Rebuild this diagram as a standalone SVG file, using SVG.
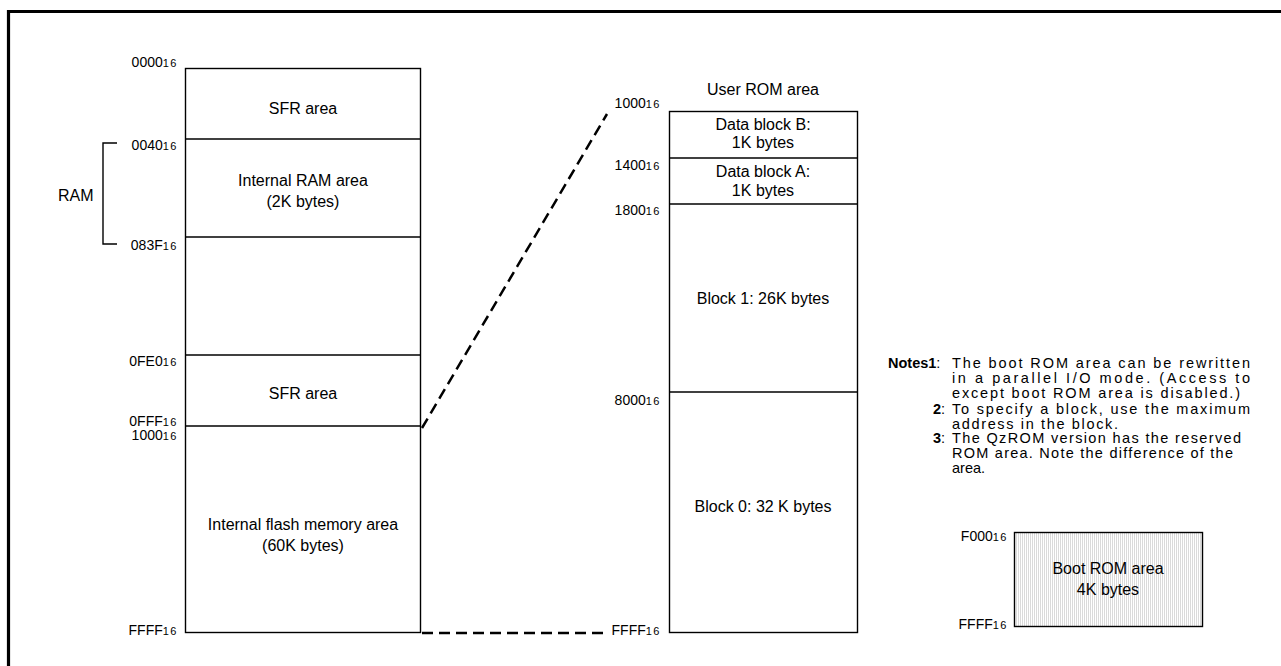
<svg xmlns="http://www.w3.org/2000/svg" width="1281" height="666" viewBox="0 0 1281 666">
<defs>
<pattern id="dots" width="2" height="2" patternUnits="userSpaceOnUse">
<rect width="2" height="2" fill="#ffffff"/>
<rect width="1" height="2" fill="#dadada"/>
</pattern>
</defs>
<style>
text{font-family:"Liberation Sans",Arial,sans-serif;fill:#000}
.lbl{font-size:16px;text-anchor:middle}
.adr{font-size:14px;text-anchor:end}
.sub{font-size:11px;letter-spacing:1.5px}
.box{fill:#fff;stroke:#000;stroke-width:1.4}
.div{stroke:#000;stroke-width:1.4}
.dash{stroke:#000;stroke-width:2.5;stroke-dasharray:11 6;fill:none}
.note{font-size:14.5px}
</style>
<rect width="1281" height="666" fill="#fff"/>
<path d="M8.5 666 V11.5 H1281" fill="none" stroke="#000" stroke-width="3.2"/>

<g id="left-map">
<rect class="box" x="185.5" y="68.5" width="235" height="564"/>
<line class="div" x1="185.5" y1="139" x2="420.5" y2="139"/>
<line class="div" x1="185.5" y1="237" x2="420.5" y2="237"/>
<line class="div" x1="185.5" y1="355" x2="420.5" y2="355"/>
<line class="div" x1="185.5" y1="426" x2="420.5" y2="426"/>
<text class="lbl" x="303" y="114">SFR area</text>
<text class="lbl" x="303" y="186">Internal RAM area</text>
<text class="lbl" x="303" y="207">(2K bytes)</text>
<text class="lbl" x="303" y="399">SFR area</text>
<text class="lbl" x="303" y="530">Internal flash memory area</text>
<text class="lbl" x="303" y="551">(60K bytes)</text>
<text class="adr" x="178" y="67">0000<tspan class="sub">16</tspan></text>
<text class="adr" x="178" y="150">0040<tspan class="sub">16</tspan></text>
<text class="adr" x="178" y="250">083F<tspan class="sub">16</tspan></text>
<text class="adr" x="178" y="366">0FE0<tspan class="sub">16</tspan></text>
<text class="adr" x="178" y="426">0FFF<tspan class="sub">16</tspan></text>
<text class="adr" x="178" y="440">1000<tspan class="sub">16</tspan></text>
<text class="adr" x="178" y="635">FFFF<tspan class="sub">16</tspan></text>
</g>

<g id="ram-bracket">
<path d="M117 143 H103 V244 H117" fill="none" stroke="#000" stroke-width="1.4"/>
<text x="58" y="201" style="font-size:16px">RAM</text>
</g>

<g id="user-rom">
<text class="lbl" x="763" y="95">User ROM area</text>
<rect class="box" x="669.5" y="111.5" width="188" height="521"/>
<line class="div" x1="669.5" y1="158" x2="857.5" y2="158"/>
<line class="div" x1="669.5" y1="204" x2="857.5" y2="204"/>
<line class="div" x1="669.5" y1="392" x2="857.5" y2="392"/>
<text class="lbl" x="763" y="130">Data block B:</text>
<text class="lbl" x="763" y="148">1K bytes</text>
<text class="lbl" x="763" y="177">Data block A:</text>
<text class="lbl" x="763" y="196">1K bytes</text>
<text class="lbl" x="763" y="304">Block 1: 26K bytes</text>
<text class="lbl" x="763" y="512">Block 0: 32 K bytes</text>
<text class="adr" x="661" y="108">1000<tspan class="sub">16</tspan></text>
<text class="adr" x="661" y="170">1400<tspan class="sub">16</tspan></text>
<text class="adr" x="661" y="215">1800<tspan class="sub">16</tspan></text>
<text class="adr" x="661" y="405">8000<tspan class="sub">16</tspan></text>
<text class="adr" x="661" y="635">FFFF<tspan class="sub">16</tspan></text>
</g>

<g id="connectors">
<line class="dash" x1="422" y1="428" x2="607" y2="114"/>
<line class="dash" x1="422" y1="633" x2="606" y2="633"/>
</g>

<g id="notes">
<text class="note" x="888" y="368"><tspan font-weight="bold">Notes1</tspan>:</text>
<text class="note" x="952" y="368" textLength="298" lengthAdjust="spacing">The boot ROM area can be rewritten</text>
<text class="note" x="952" y="383" textLength="298" lengthAdjust="spacing">in a parallel I/O mode. (Access to</text>
<text class="note" x="952" y="398" textLength="288" lengthAdjust="spacing">except boot ROM area is disabled.)</text>
<text class="note" x="933" y="414"><tspan font-weight="bold">2</tspan>:</text>
<text class="note" x="952" y="414" textLength="298" lengthAdjust="spacing">To specify a block, use the maximum</text>
<text class="note" x="952" y="429" textLength="166" lengthAdjust="spacing">address in the block.</text>
<text class="note" x="933" y="443"><tspan font-weight="bold">3</tspan>:</text>
<text class="note" x="952" y="443" textLength="289" lengthAdjust="spacing">The QzROM version has the reserved</text>
<text class="note" x="952" y="458" textLength="281" lengthAdjust="spacing">ROM area. Note the difference of the</text>
<text class="note" x="952" y="473">area.</text>
</g>

<g id="boot-rom">
<rect x="1014.5" y="532.5" width="188" height="94" fill="url(#dots)" stroke="#000" stroke-width="1.4"/>
<text class="lbl" x="1108" y="574">Boot ROM area</text>
<text class="lbl" x="1108" y="595">4K bytes</text>
<text class="adr" x="1008" y="541">F000<tspan class="sub">16</tspan></text>
<text class="adr" x="1008" y="629">FFFF<tspan class="sub">16</tspan></text>
</g>
</svg>
